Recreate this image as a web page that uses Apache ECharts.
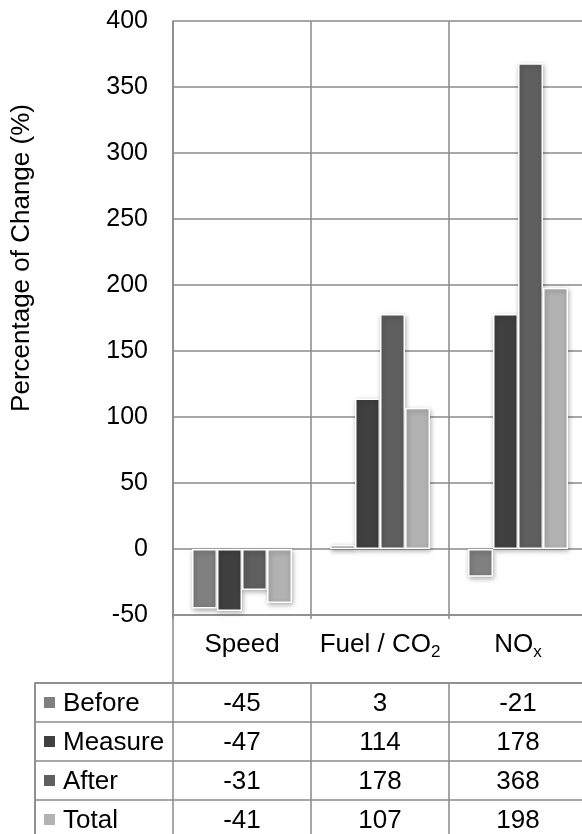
<!DOCTYPE html>
<html><head><meta charset="utf-8">
<script src="https://cdn.jsdelivr.net/npm/echarts@6/dist/echarts.min.js"></script>
<style>html,body{margin:0;padding:0;background:#fff}#c{width:582px;height:834px}</style>
</head><body><div id="c"></div>
<script>
// ---- data ----
const categories = ['Speed', 'Fuel / CO2', 'NOx'];
const categoryLabels = ['Speed', 'Fuel / CO{sub|2}', 'NO{sub|x}'];
const seriesNames = ['Before', 'Measure', 'After', 'Total'];
const before = [-45, 3, -21];
const measure = [-47, 114, 178];
const after = [-31, 178, 368];
const total = [-41, 107, 198];
const yMin = -50, yMax = 400, yInterval = 50;
const yTitle = 'Percentage of Change (%)';
// ---- style ----
const colors = ['#808080', '#404040', '#5f5f5f', '#b2b2b2'];
const FONT = "'Liberation Sans', Arial, Helvetica, sans-serif";
const FS = 26;
const TICK_FS = 25;
const lineColor = '#8a8a8a';
const seriesData = [before, measure, after, total];

const chart = echarts.init(document.getElementById('c'), null, {renderer: 'canvas'});

const tableCells = [];
for (let r = 0; r < seriesNames.length; r++) {
  for (let c = 0; c <= categories.length; c++) tableCells.push([c, r]);
}

const barSeries = seriesNames.map((name, i) => ({
  name, type: 'bar', xAxisIndex: 0, yAxisIndex: 0,
  data: seriesData[i],
  barGap: '0%', barCategoryGap: '27.5%',
  itemStyle: {
    color: colors[i], borderColor: '#ffffff', borderWidth: 1.5,
    shadowBlur: 5, shadowColor: 'rgba(0,0,0,0.35)', shadowOffsetX: 1, shadowOffsetY: 2
  },
  emphasis: {disabled: true}
}));

const option = {
  animation: false,
  backgroundColor: '#ffffff',
  textStyle: {fontFamily: FONT},
  grid: [
    {left: 173, top: 21, width: 414, height: 594, outerBoundsMode: 'none', containLabel: false},
    {left: 35, top: 683, width: 552, height: 156, outerBoundsMode: 'none', containLabel: false},
    {left: 173, top: 615, width: 414, height: 68, outerBoundsMode: 'none', containLabel: false}
  ],
  xAxis: [
    {
      gridIndex: 0, type: 'category', data: categories, position: 'bottom',
      axisLine: {show: true, onZero: false, lineStyle: {color: lineColor, width: 1.5}},
      axisTick: {show: true, length: 4, interval: 0, lineStyle: {color: lineColor, width: 1.5}},
      splitLine: {show: true, interval: 0, lineStyle: {color: lineColor, width: 1.5}},
      axisLabel: {
        interval: 0, margin: 14, color: '#000', fontSize: FS, fontFamily: FONT, lineHeight: 32,
        formatter: (v, idx) => categoryLabels[idx],
        rich: {sub: {fontSize: 17, fontFamily: FONT, color: '#000', lineHeight: 17, verticalAlign: 'bottom'}}
      }
    },
    {
      gridIndex: 1, type: 'category', data: [''].concat(categories), position: 'top',
      axisLine: {show: true, lineStyle: {color: lineColor, width: 1.5}},
      axisTick: {show: false}, axisLabel: {show: false},
      splitLine: {show: true, interval: 0, lineStyle: {color: lineColor, width: 1.5}}
    },
    {gridIndex: 2, type: 'value', show: false}
  ],
  yAxis: [
    {
      gridIndex: 0, type: 'value', min: yMin, max: yMax, interval: yInterval,
      axisLine: {show: true, lineStyle: {color: lineColor, width: 1.5}},
      axisTick: {show: false},
      splitLine: {show: true, lineStyle: {color: lineColor, width: 1.5}},
      axisLabel: {margin: 25, color: '#000', fontSize: TICK_FS, fontFamily: FONT}
    },
    {
      gridIndex: 1, type: 'category', data: seriesNames, inverse: true,
      axisLine: {show: true, lineStyle: {color: lineColor, width: 1.5}},
      axisTick: {show: false}, axisLabel: {show: false},
      splitLine: {show: true, interval: 0, lineStyle: {color: lineColor, width: 1.5}}
    },
    {
      gridIndex: 2, type: 'value',
      axisLine: {show: true, lineStyle: {color: lineColor, width: 1.5}},
      axisTick: {show: false}, axisLabel: {show: false}, splitLine: {show: false}
    }
  ],
  graphic: [{
    type: 'text', x: 22, y: 258, rotation: Math.PI / 2,
    style: {text: yTitle, fontSize: FS, fontFamily: FONT, fill: '#000', align: 'center', verticalAlign: 'middle'}
  }],
  series: barSeries.concat([{
    type: 'custom', xAxisIndex: 1, yAxisIndex: 1, data: tableCells, clip: false,
    silent: true,
    renderItem: function (params, api) {
      const c = api.value(0), r = api.value(1);
      const pt = api.coord([c, r]);
      const bw = api.size([1, 0])[0];
      if (c === 0) {
        return {type: 'group', children: [
          {type: 'rect', shape: {x: pt[0] - bw / 2 + 9, y: pt[1] - 5.5, width: 11, height: 11},
            style: {fill: colors[r]}},
          {type: 'text', style: {x: pt[0] - bw / 2 + 28, y: pt[1] + 1, text: seriesNames[r],
            fontSize: FS, fontFamily: FONT, fill: '#000', align: 'left', verticalAlign: 'middle'}}
        ]};
      }
      return {type: 'text', style: {x: pt[0], y: pt[1] + 1, text: String(seriesData[r][c - 1]),
        fontSize: FS, fontFamily: FONT, fill: '#000', align: 'center', verticalAlign: 'middle'}};
    }
  }])
};
chart.setOption(option);
</script></body></html>
